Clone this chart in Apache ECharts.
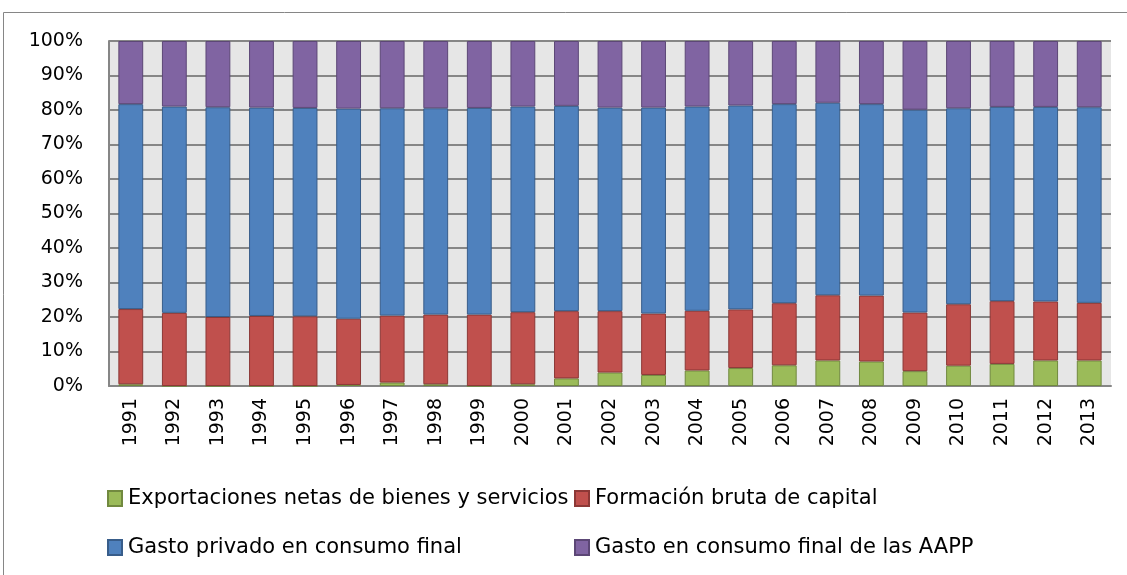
<!DOCTYPE html>
<html>
<head>
<meta charset="utf-8">
<title>Composición del PIB</title>
<script src="https://cdn.jsdelivr.net/npm/echarts@6/dist/echarts.min.js"></script>
<style>
  html, body { margin: 0; padding: 0; background: #fff; }
  #chart { width: 1127px; height: 575px; }
</style>
</head>
<body>
<div id="chart"></div>
<script>
  // años
  var years = ['1991', '1992', '1993', '1994', '1995', '1996', '1997', '1998', '1999', '2000',
    '2001', '2002', '2003', '2004', '2005', '2006', '2007', '2008', '2009', '2010', '2011', '2012', '2013']

  // % sobre el total
  var exportaciones = [0.5, 0, 0, 0, 0, 0.3, 1.0, 0.5, 0, 0.5,
    2.2, 3.9, 3.2, 4.5, 5.2, 6.0, 7.4, 7.1, 4.3, 5.9, 6.4, 7.4, 7.4]
  var formacion = [21.8, 21.2, 20.0, 20.3, 20.2, 19.2, 19.4, 20.2, 20.7, 20.9,
    19.5, 17.8, 17.8, 17.3, 17.0, 18.0, 18.9, 19.1, 17.0, 17.8, 18.2, 17.1, 16.7]
  var gastoPrivado = [59.4, 59.8, 60.8, 60.4, 60.4, 60.9, 60.1, 59.8, 59.9, 59.6,
    59.5, 59.0, 59.7, 59.2, 59.1, 57.7, 55.8, 55.5, 58.8, 56.8, 56.3, 56.4, 56.7]
  var gastoAAPP = [18.3, 19.0, 19.2, 19.3, 19.4, 19.6, 19.5, 19.5, 19.4, 19.0,
    18.8, 19.3, 19.3, 19.0, 18.7, 18.3, 17.9, 18.3, 19.9, 19.5, 19.1, 19.1, 19.2]

  var yTicks = ['0%', '10%', '20%', '30%', '40%', '50%', '60%', '70%', '80%', '90%', '100%']

  var names = [
    'Exportaciones netas de bienes y servicios',
    'Formación bruta de capital',
    'Gasto privado en consumo final',
    'Gasto en consumo final de las AAPP'
  ]
  var fills = ['#9bbb59', '#c0504d', '#4f81bd', '#8064a2']
  var borders = ['#71893f', '#8c3836', '#385d8a', '#5c4776']
  var values = [exportaciones, formacion, gastoPrivado, gastoAAPP]

  var font = 'DejaVu Sans'

  function makeSeries(i) {
    return {
      name: names[i],
      type: 'bar',
      stack: 'total',
      barCategoryGap: '43%',
      itemStyle: {
        color: fills[i],
        borderColor: borders[i],
        borderWidth: 1
      },
      data: values[i]
    }
  }

  function makeLegend(i, left, top) {
    return {
      data: [names[i]],
      left: left,
      top: top,
      icon: 'rect',
      itemWidth: 14,
      itemHeight: 15,
      itemGap: 0,
      padding: 0,
      textStyle: { fontFamily: font, fontSize: 21, color: '#000', padding: [0, 0, 0, 1] }
    }
  }

  var chart = echarts.init(document.getElementById('chart'))
  chart.setOption({
    animation: false,
    graphic: [{
      type: 'rect',
      shape: { x: 3.5, y: 12.5, width: 1140, height: 580 },
      style: { fill: 'none', stroke: '#868686', lineWidth: 1 },
      silent: true
    }],
    legend: [
      makeLegend(0, 107, 488),
      makeLegend(1, 574, 488),
      makeLegend(2, 107, 537),
      makeLegend(3, 574, 537)
    ],
    grid: {
      left: 109,
      right: 16,
      top: 41,
      bottom: 189,
      show: true,
      backgroundColor: '#e6e6e6',
      borderWidth: 0
    },
    xAxis: {
      type: 'category',
      data: years,
      axisLine: { lineStyle: { color: '#868686', width: 2 } },
      axisTick: { show: false },
      axisLabel: {
        rotate: 90,
        margin: 12,
        fontFamily: font,
        fontSize: 19,
        color: '#000'
      }
    },
    yAxis: {
      type: 'value',
      min: 0,
      max: 100,
      interval: 10,
      axisLine: { show: true, lineStyle: { color: '#868686', width: 2 } },
      axisTick: { show: false },
      splitLine: { lineStyle: { color: '#868686', width: 2 } },
      axisLabel: {
        margin: 26,
        fontFamily: font,
        fontSize: 19,
        color: '#000',
        formatter: function(v) {
          return yTicks[Math.round(v / 10)]
        }
      }
    },
    series: [makeSeries(0), makeSeries(1), makeSeries(2), makeSeries(3)]
  })
</script>
</body>
</html>
